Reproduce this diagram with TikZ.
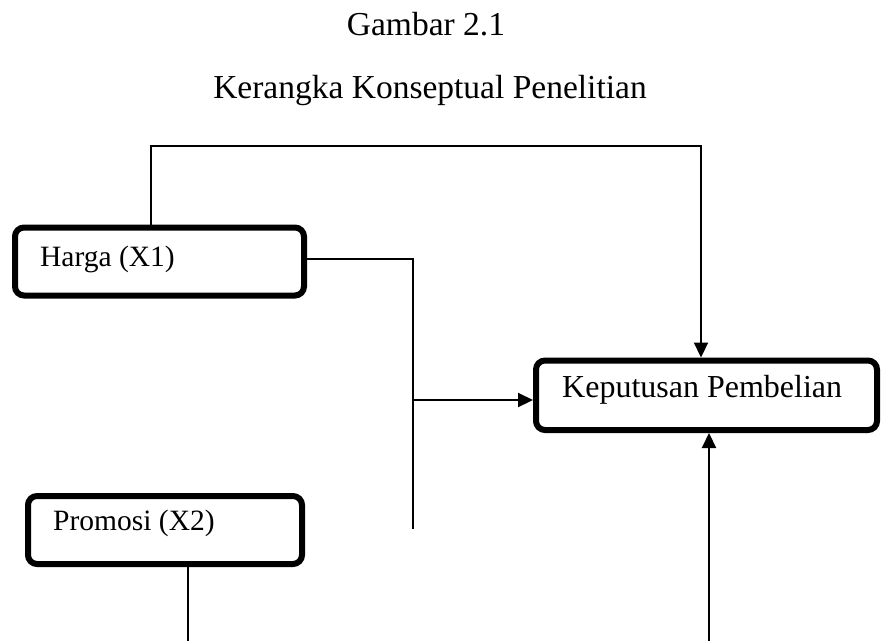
\documentclass[tikz,border=0pt]{standalone}
\usepackage{fontspec}
\setmainfont{Liberation Serif}
\usepackage{tikz}
\usetikzlibrary{arrows.meta, positioning, calc}

\begin{document}
\begin{tikzpicture}[
    x=1pt, y=-1pt,
    box/.style={rectangle, draw, line width=6pt, rounded corners=9pt, inner sep=0pt},
    label/.style={anchor=base west, inner sep=0pt, font=\fontsize{29.5}{34}\selectfont},
    title/.style={anchor=base, inner sep=0pt, font=\fontsize{33.5}{40}\selectfont},
    line/.style={line width=2.2pt},
    arrow/.style={-{Triangle[length=15pt,width=14pt]}, line width=2.2pt}
]
    \useasboundingbox (0,0) rectangle (881,641);

    \node[title] (fig) at (426,35) {Gambar 2.1};
    \node[title] (caption) at (430,98) {Kerangka Konseptual Penelitian};

    \node[box, minimum width=289pt, minimum height=68pt] (harga) at (159.5,261.5) {};
    \node[box, minimum width=274pt, minimum height=68pt] (promosi) at (165,530) {};
    \node[box, minimum width=341pt, minimum height=69.5pt] (keputusan) at (706.5,395.25) {};

    \node[label] (hargatext) at (40,266) {Harga (X1)};
    \node[label] (promositext) at (53,530) {Promosi (X2)};
    \node[label, font=\fontsize{32}{38}\selectfont] (keputusantext) at (562,397) {Keputusan Pembelian};

    % connectors
    \coordinate (top) at (701,146);
    \coordinate (split) at (413,259);
    \coordinate (splitend) at (413,529);
    \coordinate (join) at (413,400);
    \coordinate (promosiend) at (188,641);
    \coordinate (bottom) at (709,641);

    \draw[arrow] ([xshift=-8.5pt]harga.north) |- (top) -- (keputusan.north -| top);
    \draw[line] ([yshift=2.5pt]harga.east) -- (split) -- (splitend);
    \draw[arrow] (join) -- (keputusan.west |- join);
    \draw[line] (promosi.south -| promosiend) -- (promosiend);
    \draw[arrow] (bottom) -- (keputusan.south -| bottom);
\end{tikzpicture}
\end{document}
